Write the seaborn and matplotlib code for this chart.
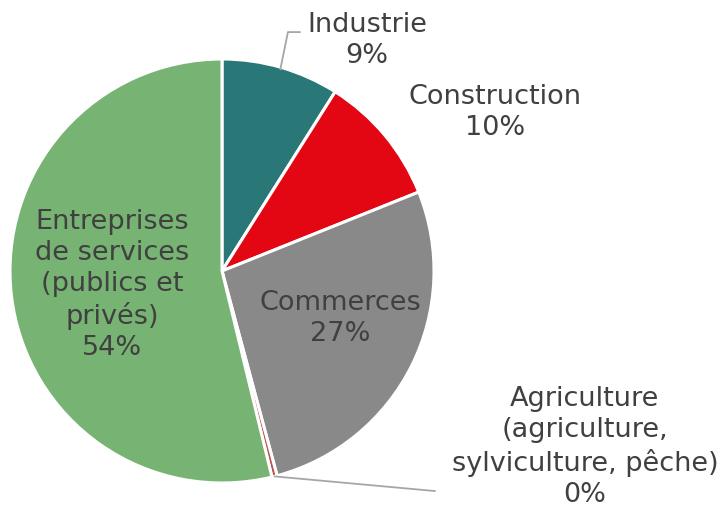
import numpy as np
import matplotlib
matplotlib.use("Agg")
import matplotlib.pyplot as plt
import seaborn as sns

# share of establishments by sector (%)
sectors = [
    "Industrie",
    "Construction",
    "Commerces",
    "Agriculture\n(agriculture,\nsylviculture, pêche)",
    "Entreprises\nde services\n(publics et\nprivés)",
]
shares = [9, 10, 27, 0.4, 54]
colors = ["#2a7777", "#e30613", "#898989", "#c0504d", "#77b373"]

sns.set_style("white")
plt.rcParams["font.family"] = ["DejaVu Sans"]

fig = plt.figure(figsize=(7.23, 5.10), dpi=100)
# pie centre ~(222, 272) px, radius ~212 px
ax = fig.add_axes([10 / 723, 26 / 510, 424 / 723, 424 / 510])

wedges, _ = ax.pie(shares, colors=colors, startangle=90, counterclock=False,
                   radius=1, wedgeprops=dict(edgecolor="white", linewidth=2.2))
ax.set_xlim(-1, 1)
ax.set_ylim(-1, 1)
ax.set_aspect("equal")
ax.axis("off")

txt = "#404040"
fs = 19.5
pct = [f"{v:.0f}%" for v in shares]


def mid_point(w, r=1.0):
    a = np.deg2rad((w.theta1 + w.theta2) / 2)
    return r * np.cos(a), r * np.sin(a)


# Industrie (outside, with leader)
x0, y0 = mid_point(wedges[0], 0.99)
ax.text(0.684, 1.094, f"{sectors[0]}\n{pct[0]}", ha="center", va="center",
        fontsize=fs, color=txt, linespacing=1.25, clip_on=False)
ax.plot([x0, 0.311, 0.368], [y0, 1.127, 1.127], color="#a6a6a6",
        lw=1.3, clip_on=False)

# Construction (outside)
ax.text(1.288, 0.75, f"{sectors[1]}\n{pct[1]}", ha="center", va="center",
        fontsize=fs, color=txt, linespacing=1.25, clip_on=False)

# Commerces (inside)
ax.text(0.557, -0.217, f"{sectors[2]}\n{pct[2]}", ha="center", va="center",
        fontsize=fs, color=txt, linespacing=1.25)

# Agriculture (outside, with leader)
x3, y3 = mid_point(wedges[3], 1.0)
ax.text(1.712, -0.825, f"{sectors[3]}\n{pct[3]}", ha="center", va="center",
        fontsize=fs, color=txt, linespacing=1.25, clip_on=False)
ax.plot([x3, 1.005], [y3, -1.038], color="#a6a6a6", lw=1.3, clip_on=False)

# Entreprises de services (inside)
ax.text(-0.519, -0.061, f"{sectors[4]}\n{pct[4]}", ha="center", va="center",
        fontsize=fs, color=txt, linespacing=1.25)

fig.savefig("out.png", dpi=100)
